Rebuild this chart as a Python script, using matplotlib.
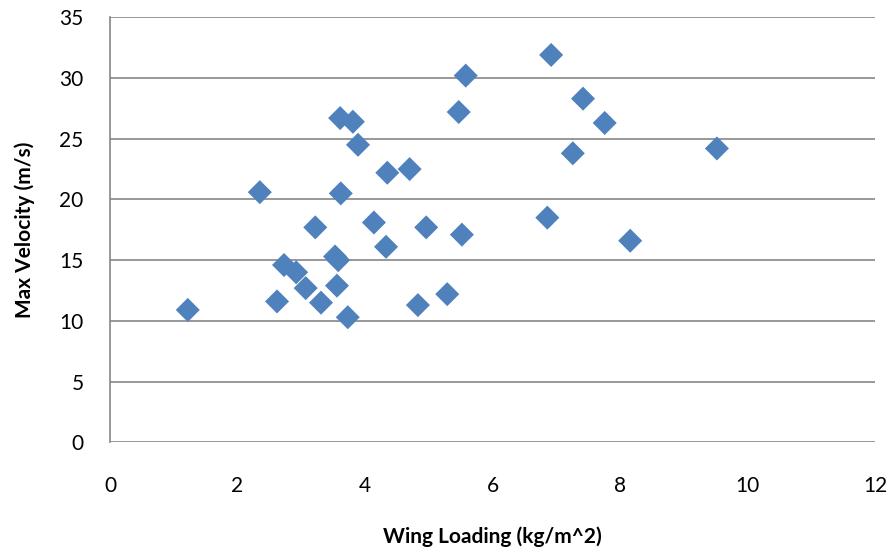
import matplotlib
matplotlib.use("Agg")
import matplotlib.pyplot as plt

# wing loading (kg/m^2) vs max velocity (m/s)
wing_loading = [1.22, 2.35, 2.62, 2.73, 2.92, 3.07, 3.22, 3.31, 3.53, 3.58,
                3.56, 3.61, 3.62, 3.73, 3.81, 3.89, 4.14, 4.33, 4.35, 4.70,
                4.83, 4.96, 5.29, 5.47, 5.52, 5.58, 6.86, 6.92, 7.26, 7.42,
                7.76, 8.16, 9.52]
max_velocity = [10.9, 20.6, 11.6, 14.6, 14.0, 12.7, 17.7, 11.5, 15.3, 15.0,
                12.9, 26.7, 20.5, 10.3, 26.4, 24.5, 18.1, 16.1, 22.2, 22.5,
                11.3, 17.7, 12.2, 27.2, 17.1, 30.2, 18.5, 31.9, 23.8, 28.3,
                26.3, 16.6, 24.2]

x_ticks = [0, 2, 4, 6, 8, 10, 12]
y_ticks = [0, 5, 10, 15, 20, 25, 30, 35]

plt.rcParams['font.family'] = ['Lato', 'DejaVu Sans']

fig = plt.figure(figsize=(8.94, 5.57), dpi=100)
ax = fig.add_axes([110 / 894, 1 - 442.3 / 557, 765 / 894, 425 / 557])

ax.scatter(wing_loading, max_velocity, marker='D', s=150, color='#4F81BD',
           edgecolors='none', zorder=3)

ax.set_xlim(0, 12)
ax.set_ylim(0, 35)
ax.set_xticks(x_ticks)
ax.set_yticks(y_ticks)
ax.tick_params(length=0, labelsize=15, colors='#000000')
ax.tick_params(axis='x', pad=24)
ax.tick_params(axis='y', pad=19)

ax.grid(axis='y', color='#868686', linewidth=1.2)
ax.set_axisbelow(True)
for s in ['top', 'right', 'bottom']:
    ax.spines[s].set_visible(False)
ax.spines['left'].set_color('#868686')
ax.spines['left'].set_linewidth(1.2)

ax.set_xlabel('Wing Loading (kg/m^2)', fontsize=15, fontweight='bold')
ax.set_ylabel('Max Velocity (m/s)', fontsize=15, fontweight='bold')
ax.xaxis.label.set_va('center')
ax.yaxis.label.set_va('center')
ax.xaxis.set_label_coords(0.5, -0.223)
ax.yaxis.set_label_coords(-0.111, 0.5)

fig.savefig('out.png', dpi=100)
